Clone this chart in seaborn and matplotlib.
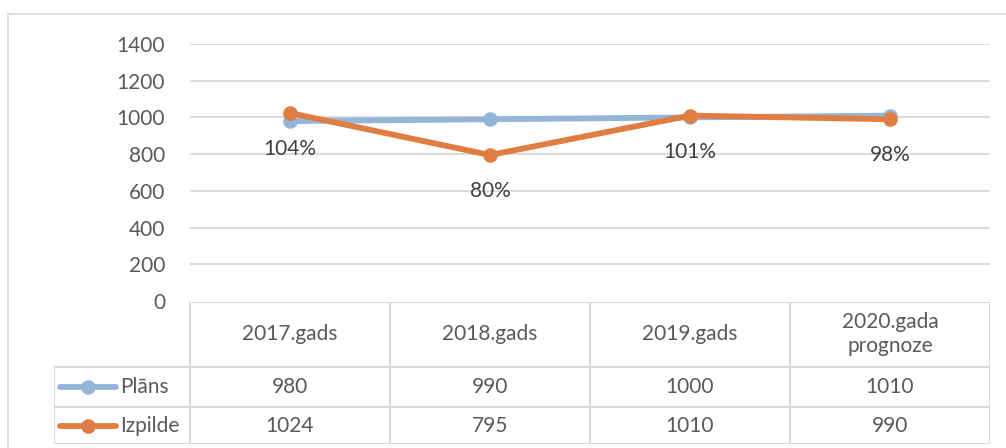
import numpy as np
import pandas as pd
import seaborn as sns
import matplotlib.pyplot as plt
from matplotlib.patches import Rectangle

# ── Data ─────────────────────────────────────────────────────────────
categories = ["2017.gads", "2018.gads", "2019.gads", "2020.gada\nprognoze"]
series_names = ["Plāns", "Izpilde"]
plans = [980, 990, 1000, 1010]
izpilde = [1024, 795, 1010, 990]
y_ticks = [0, 200, 400, 600, 800, 1000, 1200, 1400]

BLUE = "#93B5D7"
ORANGE = "#E07D42"
GRID = "#D9D9D9"
TXT = "#595959"
LBL = "#404040"
FS = 15

W, H = 1006, 448

sns.set_style("white")
plt.rcParams["font.family"] = ["Lato", "DejaVu Sans"]

fig = plt.figure(figsize=(W / 100, H / 100), dpi=100)

# outer chart border
fig.patches.append(Rectangle((8 / W, -0.05), 1.2, (H - 14) / H + 0.05, transform=fig.transFigure,
                             fill=False, edgecolor=GRID, lw=1.2))

# ── Line chart ───────────────────────────────────────────────────────
ax = fig.add_axes([190 / W, (H - 301) / H, 800 / W, 257 / H])
x = np.arange(len(categories))
df = pd.DataFrame({
    "x": np.concatenate([x, x]),
    "value": plans + izpilde,
    "series": [series_names[0]] * len(x) + [series_names[1]] * len(x),
})
sns.lineplot(data=df, x="x", y="value", hue="series", hue_order=series_names,
             palette=[BLUE, ORANGE], marker="o", markersize=10.5, markeredgewidth=0,
             linewidth=4.2, legend=False, ax=ax)

ax.set_xlim(-0.5, len(categories) - 0.5)
ax.set_ylim(0, 1400)
ax.set_yticks(y_ticks)
ax.set_yticklabels([str(t) for t in y_ticks], fontsize=FS, color=TXT)
ax.set_xticks([])
ax.set_xlabel("")
ax.set_ylabel("")
ax.tick_params(axis="y", length=0, pad=18)
for t in y_ticks[1:]:
    ax.axhline(t, color=GRID, lw=1.3, zorder=0)
for s in ax.spines.values():
    s.set_visible(False)
ax.patch.set_alpha(0)

# percentage labels under the Izpilde points
for xi, p, v in zip(x, plans, izpilde):
    ax.annotate(f"{round(v / p * 100)}%", (xi, v), xytext=(0, -26), textcoords="offset points",
                ha="center", va="center", fontsize=FS, color=LBL)

# ── Data table ───────────────────────────────────────────────────────
tab = fig.add_axes([54 / W, (H - 444) / H, 936 / W, 142 / H])
left = -0.5 - 136 / 200
tab.set_xlim(left, len(categories) - 0.5)
tab.set_ylim(142, 0)
tab.axis("off")

rows = [0, 65, 105, 142]
kw = dict(color=GRID, lw=1.5, solid_capstyle="butt")
tab.plot([-0.5, len(categories) - 0.5], [rows[0], rows[0]], **kw)
for r in rows[1:]:
    tab.plot([left, len(categories) - 0.5], [r, r], **kw)
for xi in np.arange(len(categories) + 1) - 0.5:
    tab.plot([xi, xi], [rows[0], rows[-1]], **kw)
tab.plot([left, left], [rows[1], rows[-1]], **kw)

for xi, cat in zip(x, categories):
    tab.text(xi, (rows[0] + rows[1]) / 2, cat, ha="center", va="center",
             fontsize=FS, color=TXT, linespacing=1.25)

for i, (name, vals, col) in enumerate(zip(series_names, [plans, izpilde], [BLUE, ORANGE])):
    yc = (rows[i + 1] + rows[i + 2]) / 2
    g0, g1 = left + 6 / 200, left + 62 / 200
    tab.plot([g0, g1], [yc, yc], color=col, lw=4.2, solid_capstyle="round")
    tab.plot([(g0 + g1) / 2], [yc], "o", color=col, markersize=10.5, markeredgewidth=0)
    tab.text(left + 66 / 200, yc, name, ha="left", va="center", fontsize=FS, color=TXT)
    for xi, v in zip(x, vals):
        tab.text(xi, yc, str(v), ha="center", va="center", fontsize=FS, color=TXT)

fig.savefig("out.png", dpi=100)
